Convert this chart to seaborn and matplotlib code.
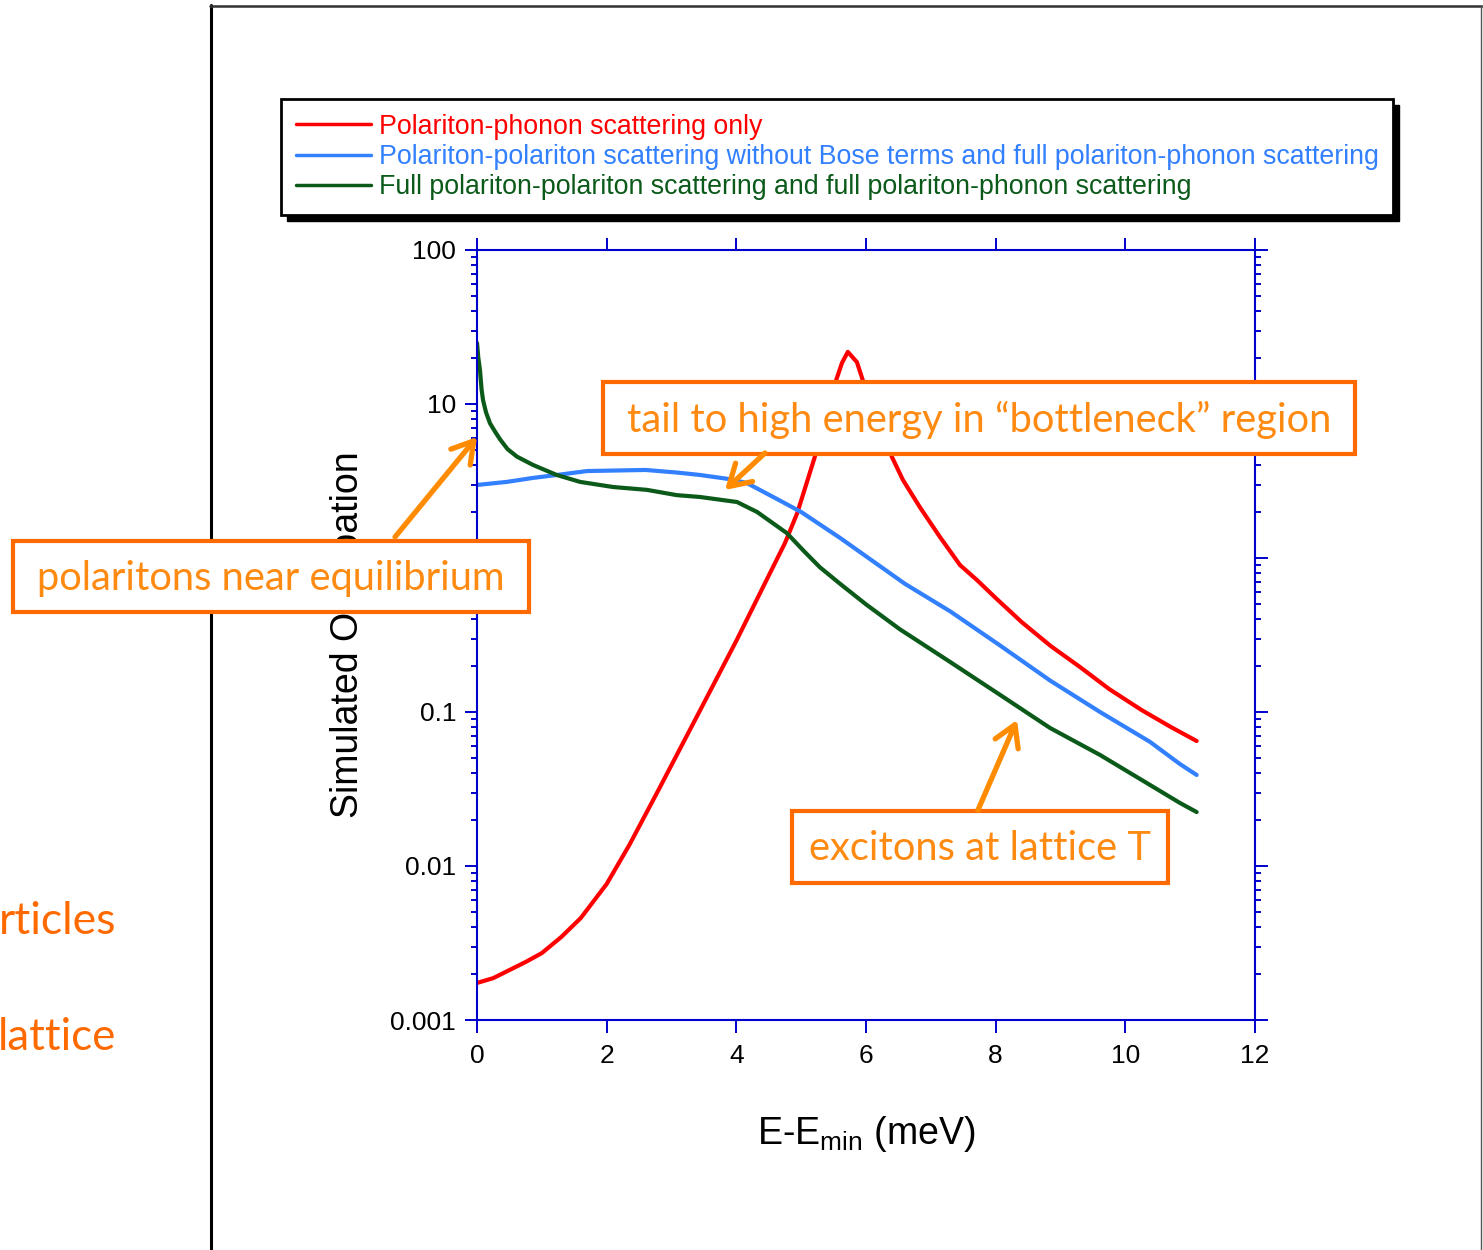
import numpy as np
import pandas as pd
import matplotlib
matplotlib.use("Agg")
import matplotlib.pyplot as plt
import seaborn as sns
from matplotlib.patches import Rectangle, FancyArrowPatch
from matplotlib.lines import Line2D
from matplotlib.ticker import FixedLocator, FixedFormatter, NullFormatter, LogLocator

# ---------------- data ----------------
series_names = [
    "Polariton-phonon scattering only",
    "Polariton-polariton scattering without Bose terms and full polariton-phonon scattering",
    "Full polariton-polariton scattering and full polariton-phonon scattering",
]

red_x = [0, 0.25, 0.5, 0.75, 1.0, 1.3, 1.6, 2.0, 2.35, 2.8, 3.4, 4.0, 4.49, 4.75, 4.94,
         5.21, 5.54, 5.63, 5.72, 5.86, 5.95, 6.4, 6.57, 6.83, 7.14, 7.45, 7.71, 8.0, 8.4,
         8.85, 9.3, 9.75, 10.25, 10.7, 11.1]
red_y = [0.00174, 0.00187, 0.00211, 0.00238, 0.00272, 0.00346, 0.00459, 0.00764, 0.0137,
         0.0312, 0.095, 0.29, 0.754, 1.25, 1.96, 4.53, 14.3, 18.5, 21.8, 18.7, 14.3, 4.53,
         3.21, 2.14, 1.37, 0.90, 0.72, 0.55, 0.384, 0.268, 0.196, 0.141, 0.103, 0.080, 0.0648]

blue_x = [0, 0.46, 0.86, 1.23, 1.7, 2.6, 3.08, 3.44, 3.9, 4.16, 4.6, 5.0, 5.6, 6.6, 7.3,
          8.07, 8.84, 9.61, 10.38, 10.84, 11.1]
blue_y = [2.98, 3.12, 3.31, 3.46, 3.67, 3.73, 3.59, 3.46, 3.25, 3.07, 2.45, 1.99, 1.35,
          0.68, 0.45, 0.27, 0.16, 0.10, 0.064, 0.046, 0.039]

green_x = [0, 0.02, 0.046, 0.07, 0.093, 0.14, 0.2, 0.28, 0.355, 0.47, 0.617, 0.864, 1.23,
           1.59, 2.1, 2.62, 3.08, 3.44, 4.01, 4.32, 4.78, 5.05, 5.29, 5.6, 6.0, 6.52, 7.3,
           8.07, 8.84, 9.61, 10.38, 10.84, 11.1]
green_y = [24.9, 20.0, 16.6, 12.5, 10.6, 8.8, 7.5, 6.6, 5.9, 5.1, 4.55, 4.02, 3.46, 3.12,
           2.89, 2.77, 2.56, 2.49, 2.31, 1.99, 1.45, 1.10, 0.87, 0.68, 0.50, 0.345, 0.211,
           0.129, 0.0787, 0.0526, 0.0336, 0.0257, 0.0224]

x_ticks = [0, 2, 4, 6, 8, 10, 12]
x_ticklabels = ["0", "2", "4", "6", "8", "10", "12"]
y_ticks = [0.001, 0.01, 0.1, 1, 10, 100]
y_ticklabels = ["0.001", "0.01", "0.1", "1", "10", "100"]

x_label = r"E-E$_{\mathrm{min}}$ (meV)"
y_label = "Simulated Occupation"

box_texts = ["tail to high energy in \u201cbottleneck\u201d region",
             "polaritons near equilibrium",
             "excitons at lattice T"]
side_texts = ["rticles", "lattice"]

# ---------------- style ----------------
sns.set_theme(style="ticks")
plt.rcParams["font.family"] = ["Liberation Sans", "DejaVu Sans"]
plt.rcParams["mathtext.fontset"] = "custom"
plt.rcParams["mathtext.rm"] = "Liberation Sans"
plt.rcParams["mathtext.it"] = "Liberation Sans:italic"
plt.rcParams["text.color"] = "black"
plt.rcParams["axes.labelcolor"] = "black"

AX_BLUE = "#0000CC"
colors = ["#FF0000", "#3380FF", "#0B5A1A"]
BOX_EDGE = "#FF6A00"
BOX_TEXT = "#FF8A12"
ARROW_C = "#FF8C00"
SIDE_TEXT = "#FF6A00"

W, H = 1483, 1250
fig = plt.figure(figsize=(W / 100, H / 100), dpi=100)


def fx(px):
    return px / W


def fy(py):
    return 1 - py / H


ax = fig.add_axes([fx(477), fy(1020), (1255 - 477) / W, (1020 - 250) / H])

frames = []
for name, xs, ys in zip(series_names, [red_x, blue_x, green_x], [red_y, blue_y, green_y]):
    frames.append(pd.DataFrame({"x": xs, "y": ys, "series": name}))
df = pd.concat(frames, ignore_index=True)

for name, c in zip(series_names, colors):
    sub = df[df["series"] == name]
    sns.lineplot(data=sub, x="x", y="y", ax=ax, color=c, lw=3.0, sort=False,
                 estimator=None, label=name, legend=False)

ax.set_yscale("log")
ax.set_xlim(0, 12)
ax.set_ylim(0.001, 100)

ax.xaxis.set_major_locator(FixedLocator(x_ticks))
ax.xaxis.set_major_formatter(FixedFormatter(x_ticklabels))
ax.yaxis.set_major_locator(FixedLocator(y_ticks))
ax.yaxis.set_major_formatter(FixedFormatter(y_ticklabels))
ax.yaxis.set_minor_locator(LogLocator(base=10, subs=np.arange(2, 10), numticks=20))
ax.yaxis.set_minor_formatter(NullFormatter())

for sp in ax.spines.values():
    sp.set_color(AX_BLUE)
    sp.set_linewidth(1.5)

ax.tick_params(which="both", direction="out", color=AX_BLUE, width=1.4,
               top=True, right=True, labeltop=False, labelright=False,
               labelcolor="black", labelsize=19)
ax.tick_params(which="major", length=9)
ax.tick_params(which="minor", length=4.5)
ax.tick_params(axis="x", pad=8)
ax.tick_params(axis="y", pad=6)

ax.set_xlabel(x_label, fontsize=27, color="black")
ax.set_ylabel(y_label, fontsize=27, color="black")
ax.xaxis.set_label_coords(0.5, -0.122)
ax.yaxis.set_label_coords(-0.143, 0.5)

# ---------------- legend (figure level) ----------------
handles = [Line2D([], [], color=c, lw=2.5) for c in colors]
leg = fig.legend(handles, series_names, loc="upper left",
                 bbox_to_anchor=(fx(281), fy(99)), bbox_transform=fig.transFigure,
                 fontsize=19.3, frameon=True, fancybox=False, handlelength=2.8,
                 handletextpad=0.3, labelspacing=0.16, borderpad=0.55,
                 borderaxespad=0, framealpha=1)
leg.get_frame().set_edgecolor("black")
leg.get_frame().set_linewidth(2)
leg.set_zorder(5)
for t, c in zip(leg.get_texts(), colors):
    t.set_color(c)

fig.canvas.draw()
bb = leg.get_frame().get_window_extent(fig.canvas.get_renderer())
inv = fig.transFigure.inverted()
(x0, y0), (x1, y1) = inv.transform([(bb.x0 + 6, bb.y0 - 6), (bb.x1 + 6, bb.y1 - 6)])
fig.add_artist(Rectangle((x0, y0), x1 - x0, y1 - y0, transform=fig.transFigure,
                         facecolor="black", edgecolor="black", zorder=4))

# ---------------- slide frame ----------------
fig.add_artist(Line2D([fx(211), fx(211)], [fy(5), fy(1250)], transform=fig.transFigure,
                      color="black", lw=2.2, zorder=1))
fig.add_artist(Line2D([fx(210), fx(1482)], [fy(6), fy(6)], transform=fig.transFigure,
                      color="#333333", lw=1.8, zorder=1))
fig.add_artist(Line2D([fx(1481), fx(1481)], [fy(6), fy(1250)], transform=fig.transFigure,
                      color="#555555", lw=1.0, zorder=1))

fig.text(fx(116), fy(922), side_texts[0], ha="right", va="center", fontsize=32,
         color=SIDE_TEXT, family=["Lato", "DejaVu Sans"])
fig.text(fx(116), fy(1037), side_texts[1], ha="right", va="center", fontsize=31.5,
         color=SIDE_TEXT, family=["Lato", "DejaVu Sans"])

# ---------------- annotation boxes ----------------
boxes = [(603, 382, 1355, 454), (13, 541, 529, 612), (792, 811, 1168, 883)]
for (bx0, by0, bx1, by1), txt in zip(boxes, box_texts):
    fig.add_artist(Rectangle((fx(bx0), fy(by1)), (bx1 - bx0) / W, (by1 - by0) / H,
                             transform=fig.transFigure, facecolor="white",
                             edgecolor=BOX_EDGE, lw=3, zorder=6))
    fig.text(fx((bx0 + bx1) / 2), fy((by0 + by1) / 2 + 2), txt, ha="center", va="center",
             fontsize=28.7, color=BOX_TEXT, family=["Lato", "DejaVu Sans"], zorder=7)

arrows = [((395, 537), (477, 437)), ((765, 453), (725, 490)), ((978, 810), (1017, 720))]
for (ax0, ay0), (ax1, ay1) in arrows:
    fig.add_artist(FancyArrowPatch((fx(ax0), fy(ay0)), (fx(ax1), fy(ay1)),
                                   transform=fig.transFigure,
                                   arrowstyle="->,head_length=0.5,head_width=0.3",
                                   mutation_scale=30, color=ARROW_C, lw=3.8,
                                   shrinkA=0, shrinkB=0, zorder=8))

fig.savefig("out.png", dpi=100)
